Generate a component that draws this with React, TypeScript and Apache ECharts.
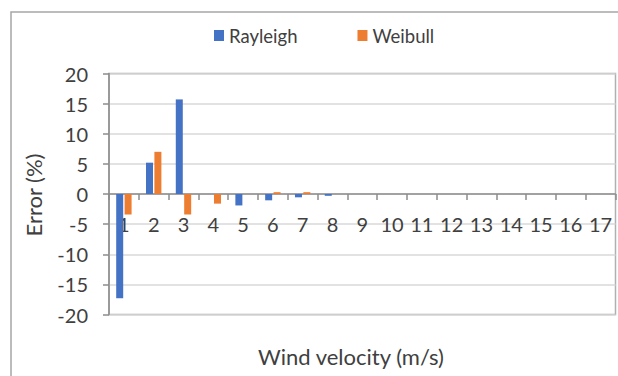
import React, { useEffect, useRef } from "react";
import * as echarts from "echarts";

const categories = ["1","2","3","4","5","6","7","8","9","10","11","12","13","14","15","16","17"];
const rayleigh = [-17.3, 5.2, 15.7, 0, -1.9, -1.05, -0.55, -0.3, 0, 0, 0, 0, 0, 0, 0, 0, 0];
const weibull = [-3.4, 7.0, -3.4, -1.6, 0, 0.3, 0.3, 0, 0, 0, 0, 0, 0, 0, 0, 0, 0];
const yMin = -20;
const yMax = 20;
const yStep = 5;

const FONT = "Lato";

export default function App() {
  const ref = useRef<HTMLDivElement>(null);
  useEffect(() => {
    if (!ref.current) return;
    const chart = echarts.init(ref.current, null, { renderer: "svg" });
    const gridTop = 73.5;
    const gridBottom = 61.5;
    const plotH = 376 - gridTop - gridBottom;
    const zeroOffset = -plotH * (0 - yMin) / (yMax - yMin);
    chart.setOption({
      animation: false,
      backgroundColor: "#ffffff",
      textStyle: { fontFamily: FONT, color: "#404040" },
      legend: {
        data: ["Rayleigh", "Weibull"],
        left: 209,
        top: 21,
        itemWidth: 10,
        itemHeight: 11,
        itemGap: 60,
        icon: "rect",
        textStyle: { fontFamily: FONT, fontSize: 18.5, color: "#404040" },
      },
      grid: {
        left: 109,
        right: 2.5,
        top: gridTop,
        bottom: gridBottom,
        show: true,
        borderColor: "#b0b0b0",
        borderWidth: 1.5,
      },
      xAxis: {
        type: "category",
        data: categories,
        offset: zeroOffset,
        axisLine: { onZero: false, lineStyle: { color: "#8c8c8c", width: 1.5 } },
        axisTick: { show: true, inside: false, length: 6, lineStyle: { color: "#8c8c8c", width: 1.5 } },
        axisLabel: { fontFamily: FONT, fontSize: 20, color: "#404040", margin: 20, interval: 0 },
        splitLine: { show: false },
      },
      yAxis: {
        type: "value",
        min: yMin,
        max: yMax,
        interval: yStep,
        axisLine: { show: true, lineStyle: { color: "#8c8c8c", width: 1.5 } },
        axisTick: { show: true, inside: false, length: 6, lineStyle: { color: "#8c8c8c", width: 1.5 } },
        axisLabel: { fontFamily: FONT, fontSize: 20, color: "#404040", margin: 21 },
        splitLine: { show: true, lineStyle: { color: "#d9d9d9", width: 1.5 } },
      },
      series: [
        {
          name: "Rayleigh",
          type: "bar",
          data: rayleigh,
          barWidth: 7,
          barGap: "20%",
          itemStyle: { color: "#4472C4" },
        },
        {
          name: "Weibull",
          type: "bar",
          data: weibull,
          barWidth: 7,
          barGap: "20%",
          itemStyle: { color: "#ED7D31" },
        },
      ],
      graphic: [
        {
          type: "rect",
          shape: { x: 11, y: 12, width: 800, height: 600 },
          style: { fill: "none", stroke: "#a6a6a6", lineWidth: 1.5 },
          silent: true,
        },
        {
          type: "text",
          x: 351,
          y: 356,
          style: {
            text: "Wind velocity (m/s)",
            fontFamily: FONT,
            fontSize: 22,
            fill: "#404040",
            align: "center",
            verticalAlign: "middle",
          },
        },
        {
          type: "text",
          x: 33,
          y: 195,
          rotation: Math.PI / 2,
          style: {
            text: "Error (%)",
            fontFamily: FONT,
            fontSize: 22,
            fill: "#404040",
            align: "center",
            verticalAlign: "middle",
          },
        },
      ],
    });
    return () => chart.dispose();
  }, []);
  return (
    <div
      ref={ref}
      style={{ position: "fixed", left: 0, top: 0, width: 618, height: 376 }}
    />
  );
}
